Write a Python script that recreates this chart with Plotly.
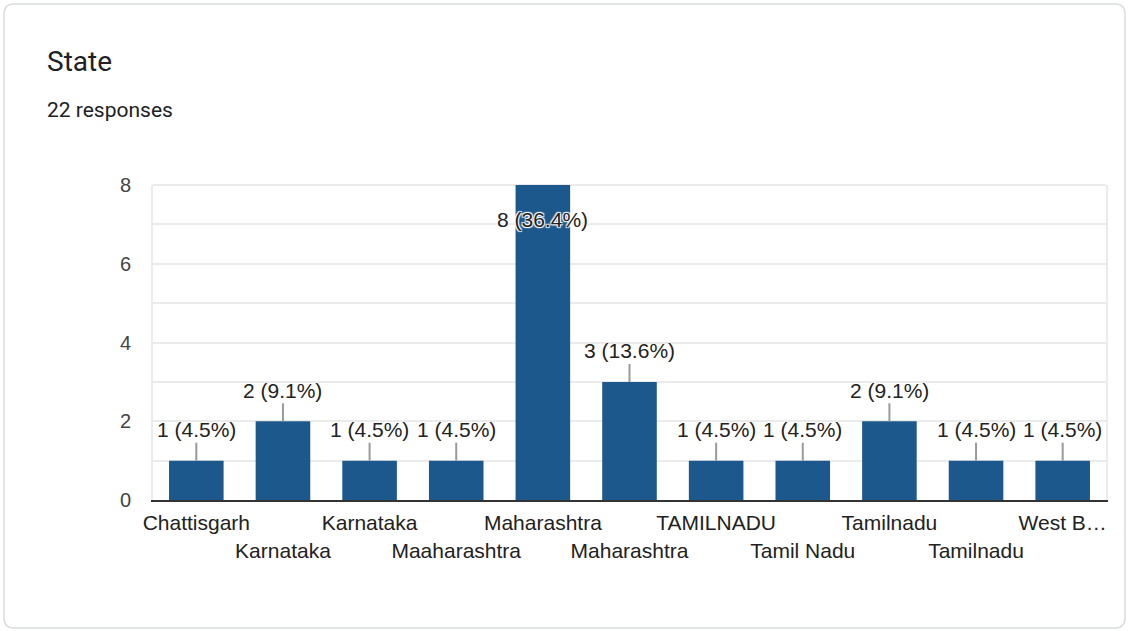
import plotly.graph_objects as go

categories = ["Chattisgarh", "Karnataka", "Karnataka", "Maaharashtra", "Maharashtra",
              "Maharashtra", "TAMILNADU", "Tamil Nadu", "Tamilnadu", "Tamilnadu", "West B…"]
counts = [1, 2, 1, 1, 8, 3, 1, 1, 2, 1, 1]
total_responses = 22
y_ticks = [0, 2, 4, 6, 8]

W, H = 1128, 631
L, R, T, B = 153, 22, 185, 131
pw, ph = W - L - R, H - T - B

def px_x(p):
    return (p - L) / pw

def px_y(q):
    return (H - B - q) / ph

positions = list(range(len(categories)))
ticktext = [c if i % 2 == 0 else "<br>" + c for i, c in enumerate(categories)]

fig = go.Figure()
fig.add_trace(go.Bar(
    x=positions, y=counts, marker=dict(color="#1d588c", line=dict(width=0)),
    hoverinfo="skip", showlegend=False,
))

ymax = max(counts)
annotations = []
for i, v in enumerate(counts):
    pct = 100 * v / total_responses
    label = f"{v} ({pct:.1f}%)"
    inside = v == ymax
    annotations.append(dict(
        x=i, y=v, xref="x", yref="y", text=label, showarrow=True,
        arrowhead=0, arrowwidth=2, arrowcolor="#9a9a9a", ax=0, ay=34 if inside else -31,
        standoff=0, startstandoff=0,
        font=dict(family="Liberation Sans, Arial", size=21, color="#222222",
                  shadow="1px 1px 1px #fff, -1px -1px 1px #fff, 1px -1px 1px #fff, -1px 1px 1px #fff" if inside else "none"),
    ))

annotations.append(dict(text="State", x=px_x(45), y=px_y(61), xref="paper", yref="paper",
                        xanchor="left", yanchor="middle", showarrow=False,
                        font=dict(family="Roboto", size=28, color="#202124")))
annotations.append(dict(text=f"{total_responses} responses", x=px_x(45), y=px_y(110), xref="paper", yref="paper",
                        xanchor="left", yanchor="middle", showarrow=False,
                        font=dict(family="Roboto", size=21, color="#202124")))

# card border (rounded rectangle)
x0, y0, x1, y1, r = 4, 4, 1125, 628, 10
def P(a, b):
    return f"{px_x(a)},{px_y(b)}"
path = (f"M {P(x0 + r, y0)} L {P(x1 - r, y0)} Q {P(x1, y0)} {P(x1, y0 + r)} "
        f"L {P(x1, y1 - r)} Q {P(x1, y1)} {P(x1 - r, y1)} L {P(x0 + r, y1)} "
        f"Q {P(x0, y1)} {P(x0, y1 - r)} L {P(x0, y0 + r)} Q {P(x0, y0)} {P(x0 + r, y0)} Z")

fig.update_layout(
    width=W, height=H,
    margin=dict(l=L, r=R, t=T, b=B),
    paper_bgcolor="white", plot_bgcolor="white",
    bargap=0.37,
    annotations=annotations,
    shapes=[dict(type="path", path=path, xref="paper", yref="paper",
                 line=dict(color="#dadce0", width=1.5), layer="below"),
            dict(type="line", xref="paper", yref="paper", x0=0, x1=1, y0=1, y1=1,
                 line=dict(color="#ebebeb", width=2), layer="below")],
    xaxis=dict(
        tickmode="array", tickvals=positions, ticktext=ticktext,
        range=[-0.5, len(categories) - 0.5], tickangle=0,
        showgrid=False, showline=True, linecolor="#333333", linewidth=2,
        ticks="", ticklabelstandoff=3,
        tickfont=dict(family="Liberation Sans, Arial", size=21, color="#222222"),
        fixedrange=True,
    ),
    yaxis=dict(
        range=[0, 8], tickvals=y_ticks, showgrid=True, gridcolor="#ebebeb", gridwidth=2,
        minor=dict(dtick=1, showgrid=True, gridcolor="#ebebeb", gridwidth=2),
        showline=True, linecolor="#ebebeb", linewidth=2, mirror=True,
        zeroline=False, ticks="", ticklabelstandoff=16,
        tickfont=dict(family="Liberation Sans, Arial", size=20, color="#444444"),
        fixedrange=True,
    ),
)

fig.write_html("out.html", config={"displayModeBar": False},
               post_script="document.body.style.margin='0';")
